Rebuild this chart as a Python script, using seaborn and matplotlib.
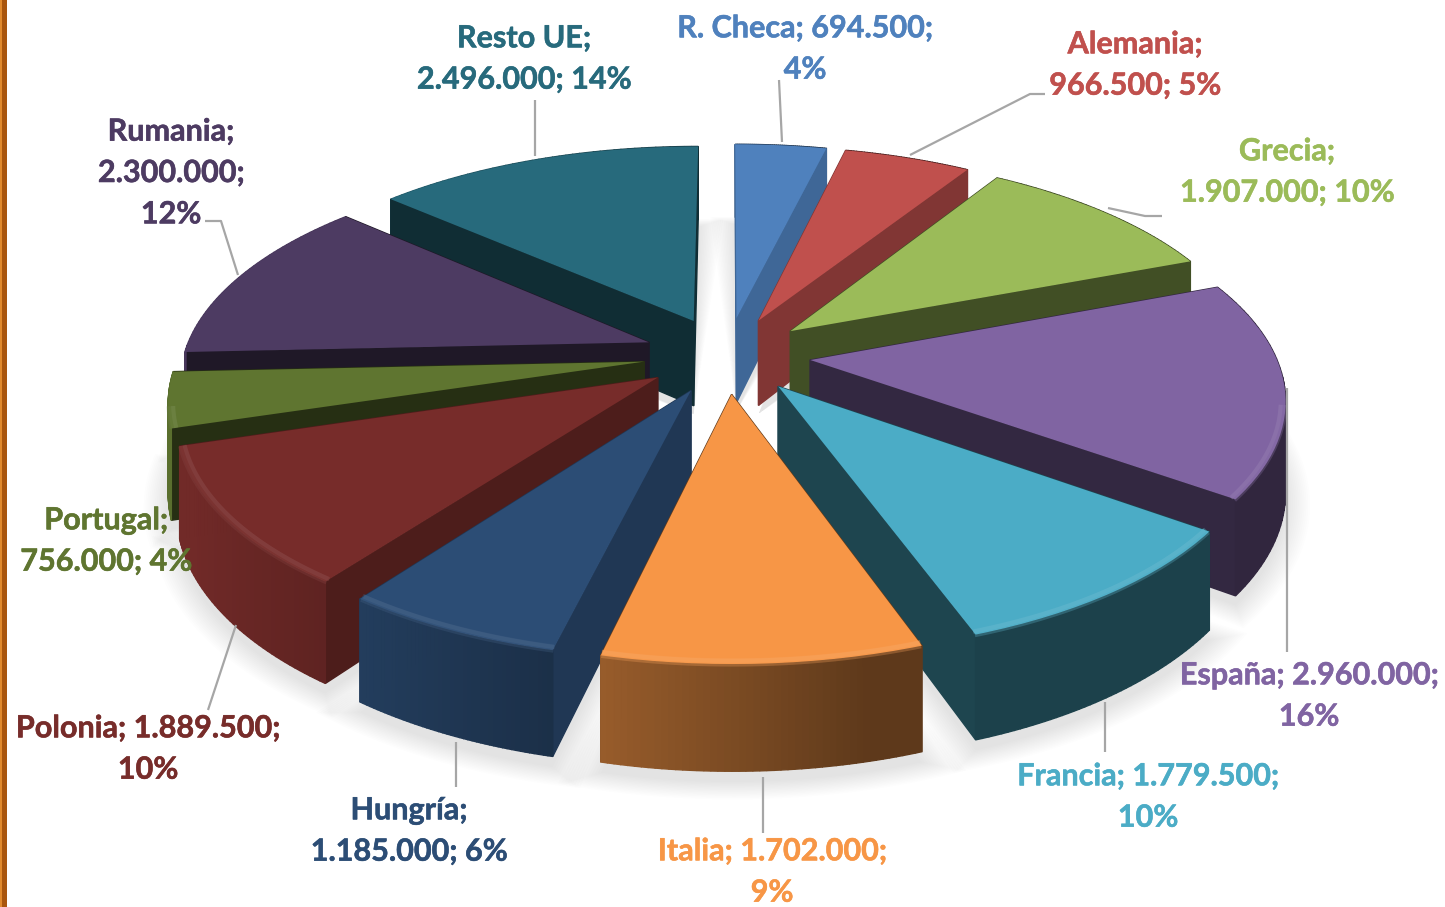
import numpy as np
import matplotlib
matplotlib.use("Agg")
import matplotlib.pyplot as plt
import matplotlib.patheffects as pe
from matplotlib.patches import Polygon, Rectangle
from matplotlib.transforms import Transform
import seaborn as sns

countries = ["R. Checa", "Alemania", "Grecia", "España", "Francia", "Italia",
             "Hungría", "Polonia", "Portugal", "Rumania", "Resto UE"]
values = [694500, 966500, 1907000, 2960000, 1779500, 1702000,
          1185000, 1889500, 756000, 2300000, 2496000]
value_labels = ["694.500", "966.500", "1.907.000", "2.960.000", "1.779.500", "1.702.000",
                "1.185.000", "1.889.500", "756.000", "2.300.000", "2.496.000"]
percent_labels = ["4%", "5%", "10%", "16%", "10%", "9%", "6%", "10%", "4%", "12%", "14%"]
colors = ["#4F81BD", "#C0504D", "#9BBB59", "#8064A2", "#4BACC6", "#F79646",
          "#2C4D75", "#772C2A", "#5F7530", "#4D3B62", "#276A7C"]

# layout (pixels / style), separate from the data
W, H = 1445, 907
CX, CY, SX, SY, SZ, KX, KY = 727, 355, 465, 212.5, 87, 0.16, 0.16
EXPLODE = 0.18
cut_shade = [0.8, 0.67, 0.42, 0.4, 0.4, 0.4, 0.72, 0.65, 0.4, 0.4, 0.42]
label_layout = [
    ("R. Checa; 694.500;\n4%", 805, 49),
    ("Alemania;\n966.500; 5%", 1135, 65),
    ("Grecia;\n1.907.000; 10%", 1287, 172),
    ("España; 2.960.000;\n16%", 1309, 696),
    ("Francia; 1.779.500;\n10%", 1148, 797),
    ("Italia; 1.702.000;\n9%", 772, 872),
    ("Hungría;\n1.185.000; 6%", 409, 831),
    ("Polonia; 1.889.500;\n10%", 148, 749),
    ("Portugal;\n756.000; 4%", 106, 541),
    ("Rumania;\n2.300.000;\n12%", 171, 173),
    ("Resto UE;\n2.496.000; 14%", 524, 59),
]
leaders = [
    [(779, 80), (782, 142)],
    [(1045, 94), (1030, 94), (910, 155)],
    [(1162, 216), (1145, 216), (1108, 208)],
    [(1287, 652), (1287, 388)],
    [(1105, 752), (1105, 702)],
    [(763, 833), (763, 777)],
    [(456, 787), (456, 742)],
    [(208, 710), (236, 625)],
    [(205, 221), (221, 221), (238, 275)],
    [(535, 100), (535, 156)],
]


def project(x, y, z=0.0):
    x, y = np.asarray(x, float), np.asarray(y, float)
    return (CX + SX * x / (1 + KX * y),
            CY - SY * y / (1 + KY * y) + SZ * z / (1 + KY * y))


class TiltTransform(Transform):
    input_dims = output_dims = 2
    is_separable = False
    has_inverse = False

    def transform_non_affine(self, values):
        v = np.asarray(values, float)
        return np.column_stack(project(v[:, 0], v[:, 1]))


def shade(color, f):
    return tuple(np.array(matplotlib.colors.to_rgb(color)) * f)


def lighten(color, f):
    c = np.array(matplotlib.colors.to_rgb(color))
    return tuple(c + (1 - c) * f)


sns.set_theme(style="white")
plt.rcParams["font.family"] = ["Lato", "DejaVu Sans"]
palette = sns.color_palette(colors)

fig = plt.figure(figsize=(W / 100, H / 100), dpi=100, facecolor="white")
ax = fig.add_axes([0, 0, 1, 1])
wedges, _ = ax.pie(values, colors=palette, startangle=90, counterclock=False,
                   explode=[EXPLODE] * len(values), radius=1.0, frame=False)
ax.set_aspect("auto")
ax.set_xlim(0, W)
ax.set_ylim(H, 0)
ax.axis("off")

tilt = TiltTransform()


def arc(w, r=1.0, n=48, pad=0.0):
    t = np.radians(np.linspace(w.theta1 - pad, w.theta2 + pad, n))
    return w.center[0] + r * np.cos(t), w.center[1] + r * np.sin(t), t


# soft ground shadow
for grow in np.linspace(1.05, 1.0, 14):
    for w in wedges:
        x, y, _t = arc(w, grow, pad=(grow - 1) * 70)
        px = np.r_[w.center[0], x]
        py = np.r_[w.center[1], y]
        sx, sy = project(px, py, 1.1)
        ax.add_patch(Polygon(np.column_stack([sx, sy]), closed=True, fc="black",
                             ec="none", alpha=0.0095, zorder=1))

# far slices first
order = sorted(range(len(wedges)),
               key=lambda i: -(wedges[i].center[1] + 0.6 * np.sin(np.radians((wedges[i].theta1 + wedges[i].theta2) / 2))))
zo = 2
for i in order:
    w, col = wedges[i], palette[i]
    cxm, cym = w.center
    x, y, t = arc(w)
    faces = []
    for xe, ye in [(x[0], y[0]), (x[-1], y[-1])]:
        xs, ys = np.array([cxm, xe, xe, cxm]), np.array([cym, ye, ye, cym])
        zs = np.array([0, 0, 1, 1])
        faces.append((ys.mean(), np.column_stack(project(xs, ys, zs)), shade(col, cut_shade[i])))
    for j in range(len(x) - 1):
        xs, ys = np.array([x[j], x[j + 1], x[j + 1], x[j]]), np.array([y[j], y[j + 1], y[j + 1], y[j]])
        zs = np.array([0, 0, 1, 1])
        nx = np.cos((t[j] + t[j + 1]) / 2)
        f = float(np.clip(0.5 - 0.5 * nx, 0.38, 0.95))
        faces.append((ys.mean(), np.column_stack(project(xs, ys, zs)), shade(col, f)))
    for _d, pts, c in sorted(faces, key=lambda a: -a[0]):
        ax.add_patch(Polygon(pts, closed=True, fc=c, ec=c, lw=1.0, zorder=zo))
        zo += 1
    w.set_transform(tilt + ax.transData)
    w.set_zorder(zo)
    w.set_edgecolor("none")
    zo += 1
    # bevel highlight along the near rim
    mask = y - cym < -0.2
    if mask.sum() > 2:
        for r, lw, a in [(0.995, 6.0, .3), (0.99, 3.0, .55)]:
            rx, ry, _t = arc(w, r)
            sx, sy = project(rx[mask], ry[mask])
            ax.plot(sx, sy, color=lighten(col, .12), lw=lw, alpha=a, zorder=zo,
                    solid_capstyle="butt")
            zo += 1

for pts in leaders:
    a = np.array(pts)
    ax.plot(a[:, 0], a[:, 1], color="#A6A6A6", lw=1.6, zorder=zo, solid_capstyle="butt")
zo += 1

for (txt, lx, ly), c in zip(label_layout, palette):
    ax.text(lx, ly, txt, color=c, ha="center", va="center", fontsize=22,
            fontweight="bold", linespacing=1.58, zorder=zo,
            path_effects=[pe.withStroke(linewidth=0.4, foreground=c)])

ax.add_patch(Rectangle((0, 0), 2, H, fc="#E08A2E", ec="none", zorder=zo))
ax.add_patch(Rectangle((2, 0), 5, H, fc="#A9560E", ec="none", zorder=zo))

fig.savefig("out.png", dpi=100, facecolor="white")
